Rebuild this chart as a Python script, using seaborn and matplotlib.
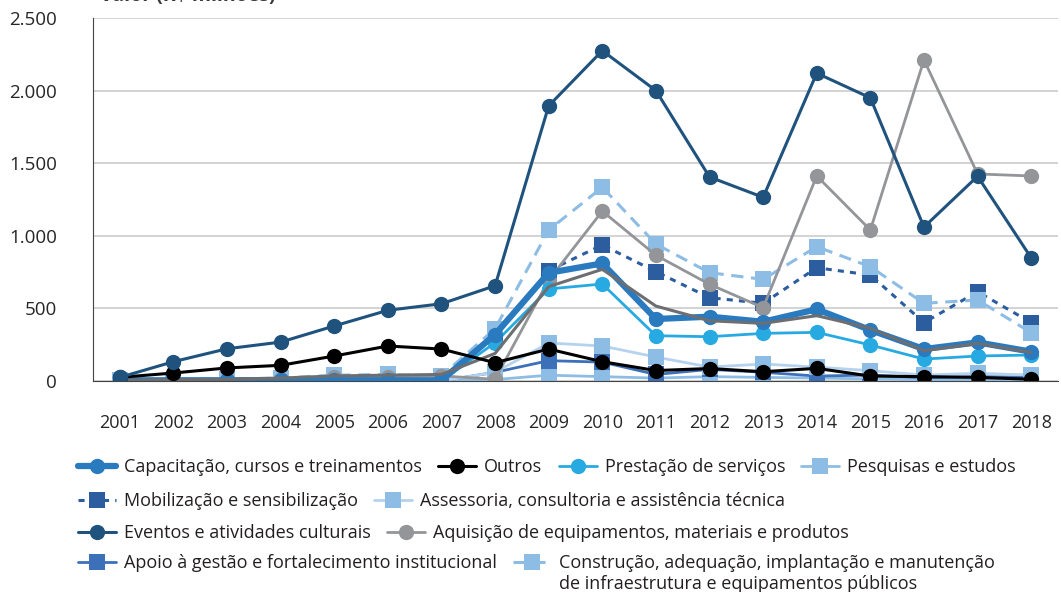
import numpy as np
import pandas as pd
import matplotlib
matplotlib.use("Agg")
import matplotlib.pyplot as plt
from matplotlib.ticker import FuncFormatter
import seaborn as sns

# dados (R$ milhões)
anos = list(range(2001, 2019))
eventos = [25, 133, 222, 268, 379, 487, 532, 656, 1895, 2275, 2000, 1405, 1265, 2120, 1950, 1060, 1410, 848]
outros = [25, 55, 90, 108, 172, 241, 220, 126, 220, 133, 72, 86, 64, 87, 34, 30, 25, 12]
prestacao = [0, 0, 0, 0, 0, 0, 0, 264, 634, 668, 312, 305, 328, 335, 248, 151, 172, 179]
capacitacao = [5, 5, 5, 5, 5, 5, 5, 320, 745, 810, 427, 443, 408, 494, 351, 220, 266, 202]
sem_rotulo = [5, 8, 12, 20, 35, 40, 45, 190, 650, 769, 516, 415, 397, 450, 363, 209, 259, 197]
aquisicao = [0, 5, 10, 15, 25, 30, 35, 12, 695, 1170, 866, 666, 505, 1412, 1040, 2211, 1426, 1412]
mobilizacao = [0, 0, 0, 0, 0, 0, 0, 320, 760, 937, 753, 574, 535, 780, 730, 402, 615, 402]
construcao = [10, 10, 15, 20, 40, 45, 35, 360, 1040, 1334, 943, 746, 700, 925, 787, 535, 558, 333]
assessoria = [0, 0, 0, 0, 0, 0, 0, 60, 262, 241, 165, 96, 117, 96, 71, 41, 53, 41]
apoio = [0, 0, 0, 0, 0, 0, 0, 60, 140, 130, 45, 80, 60, 34, 41, 23, 30, 27]
pesquisas = [0, 0, 0, 0, 0, 0, 0, 10, 40, 30, 20, 30, 25, 20, 15, 10, 10, 5]

sns.set_style("white")
plt.rcParams["font.family"] = ["Open Sans", "DejaVu Sans"]
plt.rcParams["text.color"] = "#231f20"

fig = plt.figure(figsize=(10.61, 5.92), dpi=100)
ax = fig.add_axes([93 / 1061, 1 - 381 / 592, (1058 - 93) / 1061, (381 - 18) / 592])

# ordem de desenho = ordem de sobreposição
series = [
    # chave, valores, cor da linha, cor do marcador, marcador, estilo, largura
    ("pesq", pesquisas, "#8dbde4", "#8dbde4", "s", "-", 2.0),
    ("apoio", apoio, "#3c70b9", "#3c70b9", "s", "-", 2.0),
    ("asses", assessoria, "#b5d3ee", "#8dbde4", "s", "-", 2.0),
    ("mobil", mobilizacao, "#2b5d9f", "#2b5d9f", "s", (0, (2, 2)), 2.2),
    ("const", construcao, "#8dbde4", "#8dbde4", "s", (0, (4, 2.5)), 2.2),
    ("aquis", aquisicao, "#939598", "#939598", "o", "-", 2.0),
    ("prest", prestacao, "#27aae1", "#27aae1", "o", "-", 2.0),
    ("capac", capacitacao, "#2a7abf", "#2a7abf", "o", "-", 4.5),
    ("cinza", sem_rotulo, "#6d6e71", "#6d6e71", None, "-", 2.2),
    ("outros", outros, "#000000", "#000000", "o", "-", 2.2),
    ("event", eventos, "#1f537e", "#1f537e", "o", "-", 2.2),
]

linhas = {}
for chave, vals, cor, cor_m, mk, ls, lw in series:
    df = pd.DataFrame({"ano": anos, "valor": vals})
    sns.lineplot(data=df, x="ano", y="valor", ax=ax, color=cor, marker=mk,
                 markersize=11, markerfacecolor=cor_m, markeredgecolor=cor_m,
                 markeredgewidth=0, linestyle=ls, linewidth=lw, legend=False)
    linhas[chave] = ax.lines[-1]

ax.set_xlim(2000.5, 2018.5)
ax.set_ylim(0, 2500)
ax.set_yticks([0, 500, 1000, 1500, 2000, 2500])
ax.yaxis.set_major_formatter(FuncFormatter(lambda v, p: f"{v:,.0f}".replace(",", ".")))
ax.set_xticks(anos)
ax.set_xticks(np.arange(2000.5, 2019, 1), minor=True)
ax.set_xlabel("")
ax.set_ylabel("")
ax.grid(axis="y", color="#cccccc", linewidth=1.2)
ax.set_axisbelow(True)
for s in ["top", "right"]:
    ax.spines[s].set_visible(False)
ax.spines["left"].set_color("#444444")
ax.spines["bottom"].set_color("#444444")
ax.tick_params(axis="x", which="major", length=0, pad=24, labelsize=13)
ax.tick_params(axis="x", which="minor", length=10, width=1, color="#444444", direction="out")
ax.tick_params(axis="y", length=10, width=1, color="#444444", direction="out", pad=16, labelsize=13.5)

# título cortado no topo
fig.text(100 / 1061, 1 + 4 / 592, "Valor (R$ milhões)", fontsize=14, fontweight="bold",
         color="#3a3a3a", va="center", ha="left")

# legenda em linhas
linhas_leg = [
    (467, [("capac", "Capacitação, cursos e treinamentos"), ("outros", "Outros"),
           ("prest", "Prestação de serviços"), ("pesq", "Pesquisas e estudos")]),
    (501, [("mobil", "Mobilização e sensibilização"),
           ("asses", "Assessoria, consultoria e assistência técnica")]),
    (533, [("event", "Eventos e atividades culturais"),
           ("aquis", "Aquisição de equipamentos, materiais e produtos")]),
    (563, [("apoio", "Apoio à gestão e fortalecimento institucional"),
           ("const", "Construção, adequação, implantação e manutenção")]),
]
legs = []
for y, itens in linhas_leg:
    leg = fig.legend([linhas[k] for k, _ in itens], [t for _, t in itens],
                     loc="center left", bbox_to_anchor=(78 / 1061, 1 - y / 592),
                     ncol=len(itens), frameon=False, fontsize=13, handlelength=2.1,
                     handletextpad=0.45, columnspacing=0.9, borderaxespad=0, borderpad=0)
    legs.append(leg)

# segunda linha do último rótulo, alinhada com o texto da legenda
fig.canvas.draw()
r = fig.canvas.get_renderer()
bb = legs[-1].get_texts()[-1].get_window_extent(r)
x0 = bb.x0 / fig.bbox.width
fig.text(x0, 1 - 584 / 592, "de infraestrutura e equipamentos públicos",
         fontsize=13, va="center", ha="left")

fig.savefig("out.png", dpi=100)
